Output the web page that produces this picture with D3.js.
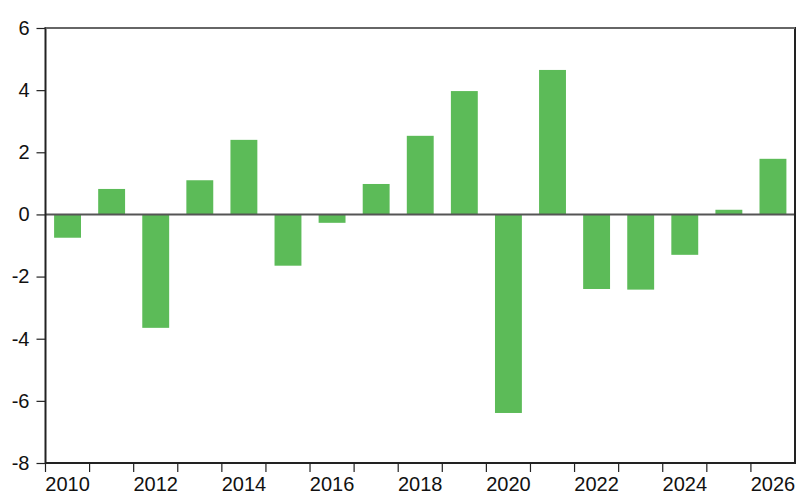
<!DOCTYPE html>
<html>
<head>
<meta charset="utf-8">
<script src="https://cdn.jsdelivr.net/npm/d3@7"></script>
<style>
  body { margin: 0; background: #fff; }
  svg text { font-family: "Liberation Sans", Arial, sans-serif; }
</style>
</head>
<body>
<div id="chart"></div>
<script>
// Data
const years = [2010, 2011, 2012, 2013, 2014, 2015, 2016, 2017, 2018,
  2019, 2020, 2021, 2022, 2023, 2024, 2025, 2026]
const values = [-0.75, 0.82, -3.65, 1.1, 2.4, -1.65, -0.27, 0.98, 2.53,
  3.97, -6.39, 4.65, -2.4, -2.42, -1.3, 0.15, 1.79]
const yTicks = [-8, -6, -4, -2, 0, 2, 4, 6]
const xLabels = [2010, 2012, 2014, 2016, 2018, 2020, 2022, 2024, 2026]

const width = 800
const height = 494
const margin = { top: 28, right: 5, bottom: 31, left: 45.5 }

const svg = d3.select('#chart')
  .append('svg')
  .attr('width', width)
  .attr('height', height)

const x = d3.scaleBand()
  .domain(years)
  .range([margin.left, width - margin.right])
  .paddingInner(0.39)
  .paddingOuter(0.195)

const y = d3.scaleLinear()
  .domain([-8, 6])
  .range([height - margin.bottom, margin.top])

// Bars
svg.append('g')
  .selectAll('rect')
  .data(values)
  .enter().append('rect')
  .attr('x', (d, i) => x(years[i]))
  .attr('width', x.bandwidth())
  .attr('y', d => y(Math.max(0, d)))
  .attr('height', d => Math.abs(y(d) - y(0)))
  .attr('fill', '#5cbb58')

// Zero line
svg.append('line')
  .attr('x1', margin.left)
  .attr('x2', width - margin.right)
  .attr('y1', y(0))
  .attr('y2', y(0))
  .attr('stroke', '#555')
  .attr('stroke-width', 2)

// Frame
svg.append('rect')
  .attr('x', margin.left)
  .attr('y', margin.top)
  .attr('width', width - margin.left - margin.right)
  .attr('height', height - margin.top - margin.bottom)
  .attr('fill', 'none')
  .attr('stroke', '#222')
  .attr('stroke-width', 2)
svg.append('line')
  .attr('x1', margin.left)
  .attr('x2', width - margin.right)
  .attr('y1', margin.top)
  .attr('y2', margin.top)
  .attr('stroke', '#666')
  .attr('stroke-width', 2)

// Y axis
const yAxis = svg.append('g')
  .attr('transform', `translate(${margin.left}, 0)`)
  .call(d3.axisLeft(y).tickValues(yTicks).tickSize(9).tickPadding(7).tickFormat(d => String(d)))
yAxis.select('.domain').remove()
yAxis.selectAll('line').attr('stroke', '#222').attr('stroke-width', 1.2)
yAxis.selectAll('text')
  .attr('font-size', null)
  .style('font-size', '20px')
  .attr('fill', '#111')

// X axis: ticks at year boundaries, labels at band centres
const gap = (x.step() - x.bandwidth()) / 2
const xg = svg.append('g')
xg.selectAll('line')
  .data(years)
  .enter().append('line')
  .attr('x1', d => x(d) - gap)
  .attr('x2', d => x(d) - gap)
  .attr('y1', height - margin.bottom)
  .attr('y2', height - margin.bottom + 9)
  .attr('stroke', '#222')
  .attr('stroke-width', 1.2)
xg.selectAll('text')
  .data(xLabels)
  .enter().append('text')
  .attr('x', d => x(d) + x.bandwidth() / 2)
  .attr('y', height - 3)
  .attr('text-anchor', 'middle')
  .style('font-size', '20px')
  .attr('fill', '#111')
  .text(d => d)
</script>
</body>
</html>
